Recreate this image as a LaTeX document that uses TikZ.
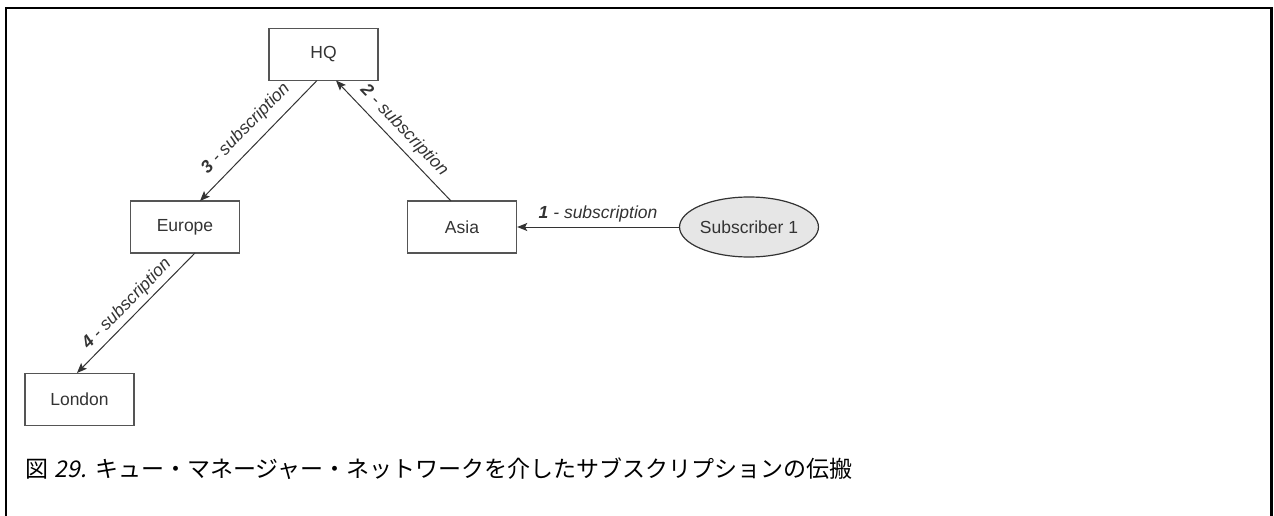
\documentclass[tikz,border=0pt]{standalone}
\usepackage{fontspec}
\setmainfont{Liberation Sans}
\newfontfamily\cjk{Noto Sans CJK JP}
\newfontfamily\cjkit[FakeSlant=0.2]{Noto Sans CJK JP}
\usetikzlibrary{shapes.geometric,arrows.meta}
\definecolor{ink}{HTML}{333333}
\definecolor{boxline}{HTML}{555555}
\definecolor{ellfill}{HTML}{E6E6E6}
\tikzset{
  qm/.style={draw=boxline, line width=1.4pt, minimum width=109pt, minimum height=52pt, inner sep=0pt, text=ink, font=\fontsize{17.5}{20}\selectfont},
  sub/.style={ellipse, draw=ink, line width=1.2pt, fill=ellfill, minimum width=128pt, minimum height=60pt, inner sep=0pt, text=ink, font=\fontsize{17.5}{20}\selectfont},
  conn/.style={draw=ink, line width=1pt, -{Stealth[length=10pt,width=8pt,inset=2pt]}},
  lbl/.style={text=ink, font=\fontsize{17.5}{20}\selectfont\itshape, inner sep=0pt},
}
\begin{document}
\begin{tikzpicture}[x=1pt,y=-1pt]
\useasboundingbox (0,0) rectangle (1274,516);
\begin{scope}
\clip (0,0) rectangle (1274,516);
\draw[line width=2.2pt] (6,530) -- (6,8) -- (1271.5,8) -- (1271.5,530);
\end{scope}
\node[qm] (hq) at (323.5,54.5) {HQ};
\node[qm] (eu) at (185,227) {Europe};
\node[qm] (as) at (462,227) {Asia};
\node[qm] (lo) at (79.5,399.5) {London};
\node[sub] (s1) at (749,227) {Subscriber 1};
\coordinate (hqA) at (317,80.5);
\coordinate (hqB) at (336,80.5);
\coordinate (euT) at (200,201);
\coordinate (euB) at (195,253);
\coordinate (asT) at (451,201);
\coordinate (loT) at (77,373);
\draw[conn] (s1.west) -- node[lbl, above, yshift=4pt] {\textbf{1} - subscription} (as.east);
\draw[conn] (asT) -- node[lbl, sloped, above, yshift=6pt] {\textbf{2} - subscription} (hqB);
\draw[conn] (hqA) -- node[lbl, sloped, above, yshift=9pt] {\textbf{3} - subscription} (euT);
\draw[conn] (euB) -- node[lbl, sloped, above, yshift=4pt] {\textbf{4} - subscription} (loT);
\node[anchor=west, inner sep=0pt, font=\fontsize{23}{26}\selectfont] (cap) at (25,469) {{\cjk 図} {\cjkit 29.} {\cjk キュー・マネージャー・ネットワークを介したサブスクリプションの伝搬}};
\end{tikzpicture}
\end{document}
